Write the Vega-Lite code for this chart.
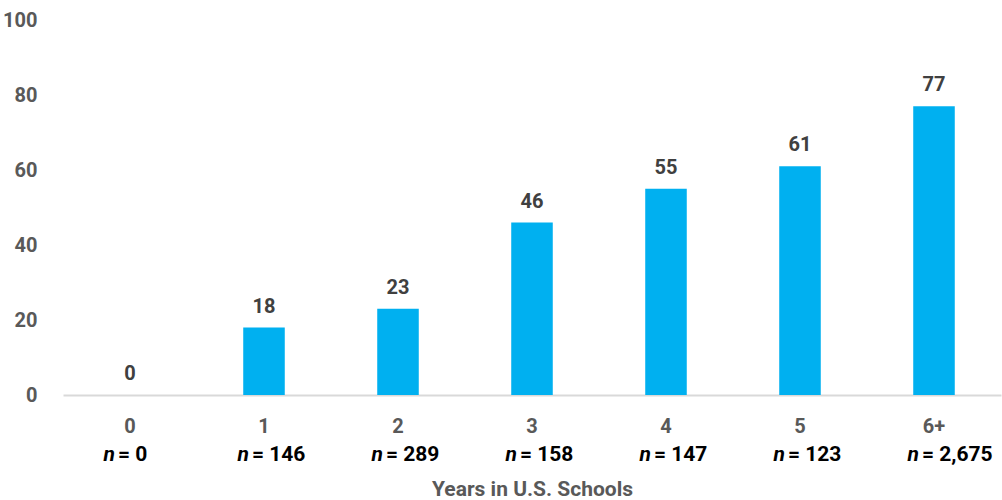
{
  "$schema": "https://vega.github.io/schema/vega-lite/v6.json",
  "width": 938,
  "height": 375,
  "autosize": "none",
  "padding": {"left": 63, "top": 20, "right": 1, "bottom": 105},
  "config": {
    "view": {"stroke": null},
    "font": "Roboto"
  },
  "data": {
    "values": [
      {"years": "0", "pct": 0, "n": 0},
      {"years": "1", "pct": 18, "n": 146},
      {"years": "2", "pct": 23, "n": 289},
      {"years": "3", "pct": 46, "n": 158},
      {"years": "4", "pct": 55, "n": 147},
      {"years": "5", "pct": 61, "n": 123},
      {"years": "6+", "pct": 77, "n": 2675}
    ]
  },
  "transform": [
    {"calculate": "'= ' + format(datum.n, ',')", "as": "nText"}
  ],
  "encoding": {
    "x": {
      "field": "years",
      "type": "ordinal",
      "sort": null,
      "scale": {"paddingInner": 0.69, "paddingOuter": 0.345},
      "axis": {
        "title": "Years in U.S. Schools",
        "titleFont": "Roboto",
        "titleFontSize": 21,
        "titleFontWeight": "bold",
        "titleColor": "#595959",
        "titlePadding": 42,
        "labelAngle": 0,
        "labelFont": "Roboto",
        "labelFontSize": 20,
        "labelFontWeight": "bold",
        "labelColor": "#595959",
        "labelPadding": 21,
        "ticks": false,
        "domainColor": "#d9d9d9",
        "domainWidth": 2
      }
    }
  },
  "layer": [
    {
      "mark": {"type": "bar", "color": "#00B0F0"},
      "encoding": {
        "y": {
          "field": "pct",
          "type": "quantitative",
          "scale": {"domain": [0, 100]},
          "axis": {
            "title": null,
            "values": [0, 20, 40, 60, 80, 100],
            "grid": false,
            "domain": false,
            "ticks": false,
            "labelPadding": 26,
            "labelFont": "Roboto",
            "labelFontSize": 20,
            "labelFontWeight": "bold",
            "labelColor": "#595959"
          }
        }
      }
    },
    {
      "mark": {
        "type": "text",
        "baseline": "bottom",
        "dy": -11,
        "font": "Roboto",
        "fontSize": 20,
        "fontWeight": "bold",
        "color": "#404040"
      },
      "encoding": {
        "y": {"field": "pct", "type": "quantitative"},
        "text": {"field": "pct", "type": "quantitative"}
      }
    },
    {
      "mark": {
        "type": "text",
        "align": "right",
        "baseline": "middle",
        "dx": -15,
        "dy": 60,
        "font": "Roboto",
        "fontSize": 21,
        "fontWeight": "bold",
        "fontStyle": "italic",
        "color": "#000000"
      },
      "encoding": {
        "y": {"datum": 0, "type": "quantitative"},
        "text": {"value": "n"}
      }
    },
    {
      "mark": {
        "type": "text",
        "align": "left",
        "baseline": "middle",
        "dx": -12,
        "dy": 60,
        "font": "Roboto",
        "fontSize": 21,
        "fontWeight": "bold",
        "color": "#000000"
      },
      "encoding": {
        "y": {"datum": 0, "type": "quantitative"},
        "text": {"field": "nText"}
      }
    }
  ]
}
